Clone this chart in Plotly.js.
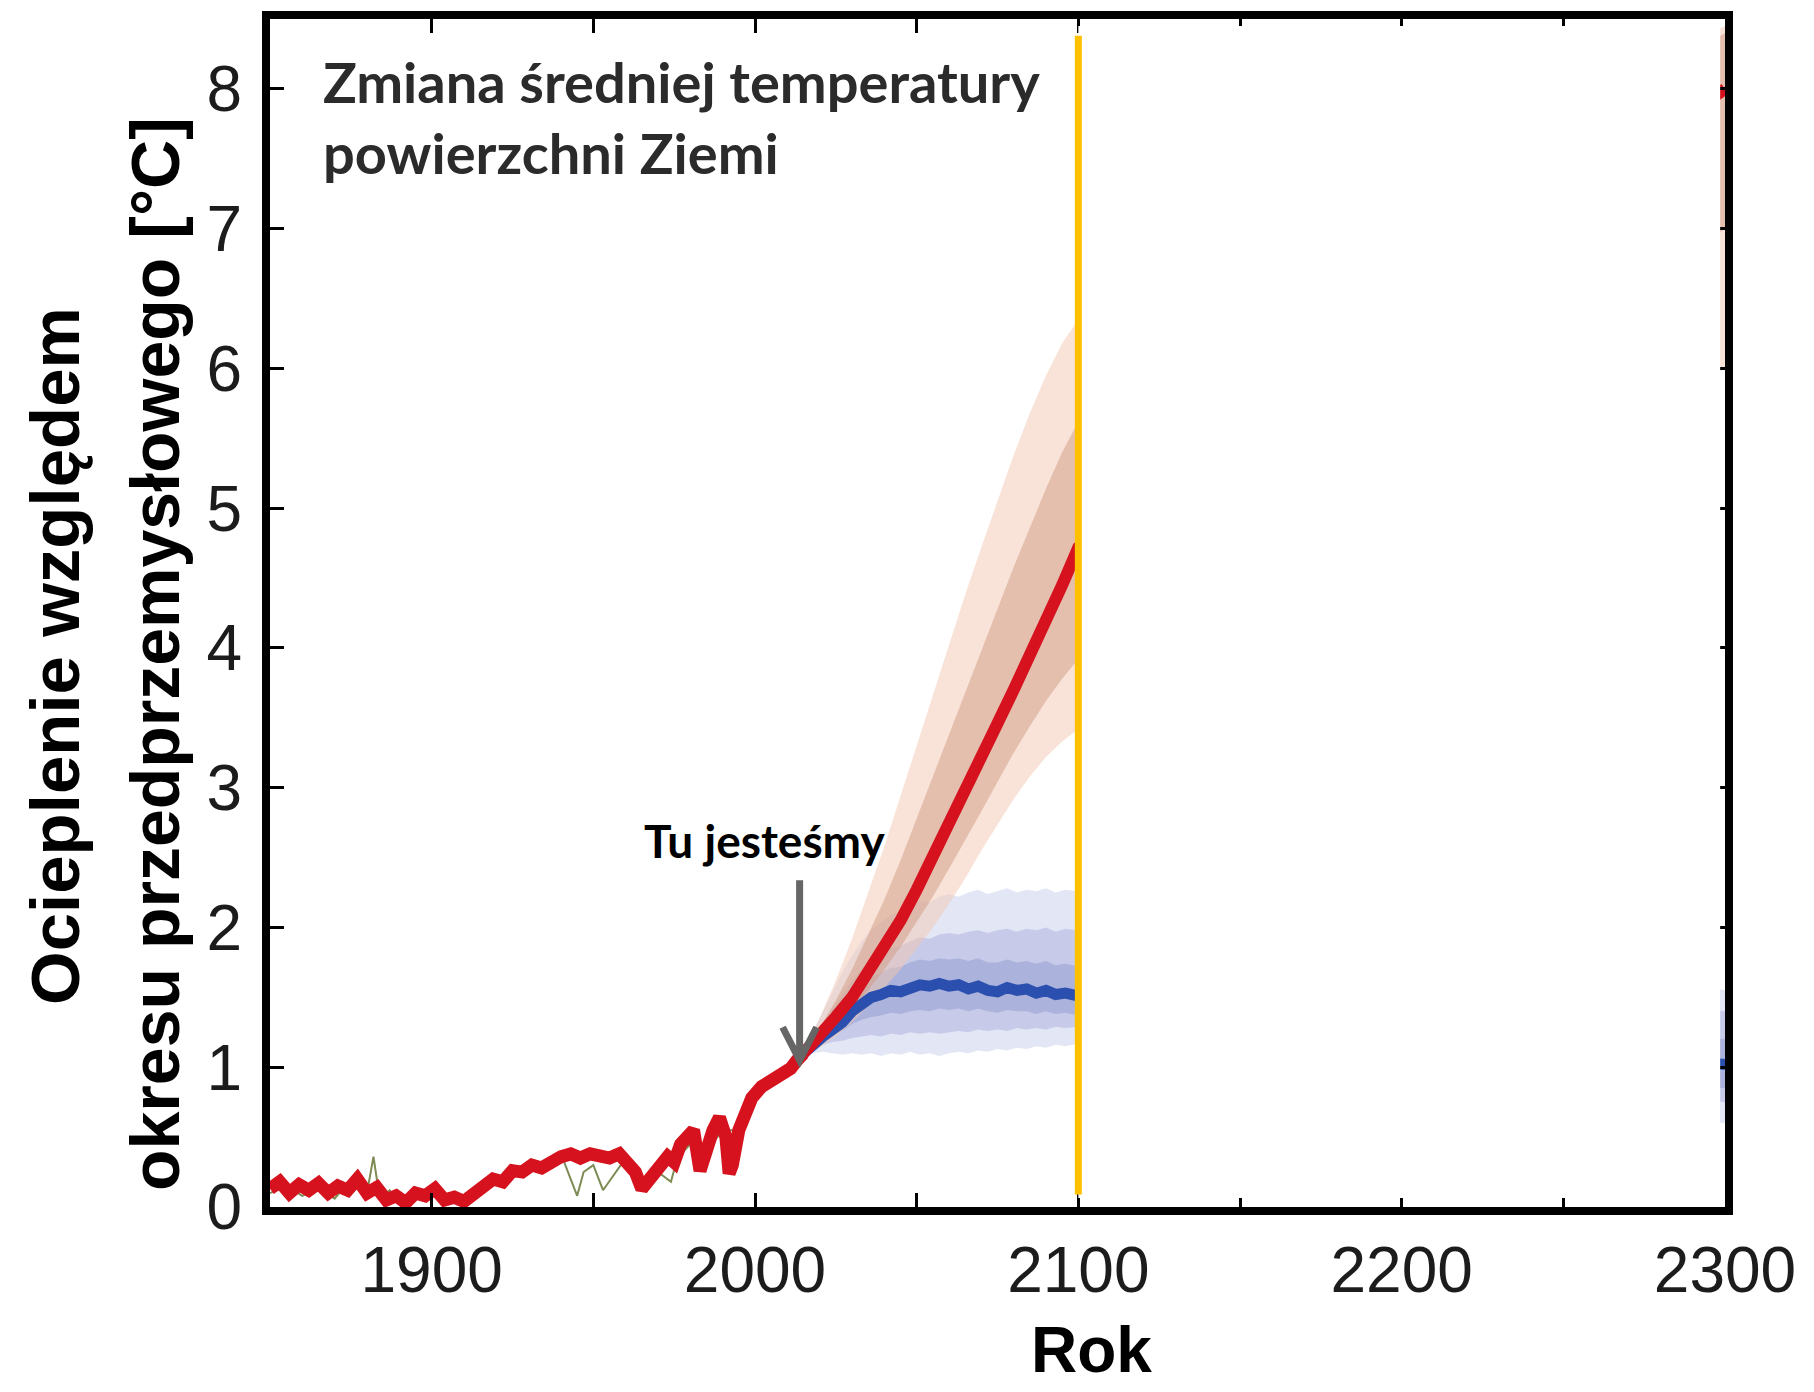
<!DOCTYPE html>
<html><head><meta charset="utf-8">
<script src="https://cdn.plot.ly/plotly-3.0.1.min.js"></script>
<style>html,body{margin:0;padding:0;background:#fff}#chart{width:1814px;height:1392px}</style>
</head><body><div id="chart"></div>
<script>
// ---------- DATA ----------
const obsYears = [1850,1853,1856,1859,1862,1865,1868,1871,1874,1877,1880,1883,1886,1889,1892,1895,1898,1901,1904,1907,1910,1913,1916,1919,1922,1925,1928,1931,1934,1937,1940,1943,1946,1949,1952,1955,1958,1961,1963,1965,1967,1970,1973,1975,1977,1979,1981,1983,1985,1987,1989,1991,1992,1993,1995,1997,1999,2002,2005,2008,2011,2013,2015];
const obsTemp  = [0.13,0.18,0.10,0.16,0.12,0.17,0.10,0.15,0.12,0.20,0.10,0.14,0.05,0.08,0.03,0.10,0.08,0.13,0.05,0.07,0.04,0.10,0.15,0.20,0.18,0.26,0.25,0.30,0.28,0.33,0.36,0.38,0.35,0.38,0.36,0.35,0.38,0.31,0.25,0.13,0.18,0.28,0.36,0.32,0.45,0.50,0.55,0.26,0.45,0.55,0.64,0.50,0.24,0.30,0.55,0.68,0.78,0.86,0.90,0.93,0.99,1.05,1.10];

const otherObsYears = [1850,1855,1860,1865,1870,1875,1878,1880,1882,1884,1887,1890,1895,1900,1905,1910,1915,1920,1925,1930,1935,1940,1943,1945,1947,1950,1953,1956,1960,1965,1970,1974,1976,1980,1985,1990,1995,2000,2005,2010,2015];
const otherObsTemp  = [0.10,0.15,0.08,0.14,0.06,0.20,0.12,0.10,0.36,0.05,0.12,0.03,0.12,0.10,0.08,0.06,0.13,0.18,0.22,0.28,0.30,0.38,0.20,0.08,0.25,0.30,0.12,0.22,0.35,0.14,0.25,0.18,0.35,0.45,0.40,0.55,0.55,0.78,0.88,0.97,1.08];

const highYears   = [2015,2020,2025,2030,2035,2040,2045,2050,2055,2060,2065,2070,2075,2080,2085,2090,2095,2100,2300];
const highMean    = [1.10,1.22,1.36,1.50,1.68,1.86,2.05,2.27,2.50,2.74,2.98,3.22,3.46,3.70,3.93,4.20,4.45,4.72,8.0];
const highOuterUp = [1.12,1.35,1.62,1.92,2.25,2.58,2.94,3.30,3.66,4.02,4.38,4.72,5.05,5.38,5.68,5.95,6.18,6.35,8.45];
const highOuterLo = [1.08,1.14,1.22,1.32,1.44,1.57,1.70,1.85,2.00,2.17,2.35,2.55,2.74,2.92,3.08,3.22,3.33,3.42,6.0];
const highInnerUp = [1.11,1.28,1.48,1.70,1.95,2.20,2.48,2.78,3.08,3.38,3.68,3.98,4.28,4.58,4.86,5.14,5.40,5.62,8.4];
const highInnerLo = [1.09,1.17,1.28,1.40,1.55,1.70,1.86,2.04,2.22,2.42,2.62,2.83,3.04,3.25,3.44,3.62,3.78,3.92,7.0];

const lowYears   = [2015,2018,2021,2024,2027,2030,2033,2036,2039,2042,2045,2048,2051,2054,2057,2060,2063,2066,2069,2072,2075,2078,2081,2084,2087,2090,2093,2096,2100,2300];
const lowMean    = [1.10,1.17,1.22,1.27,1.32,1.40,1.46,1.50,1.52,1.55,1.54,1.57,1.59,1.58,1.60,1.58,1.59,1.56,1.58,1.55,1.54,1.57,1.55,1.56,1.53,1.55,1.52,1.53,1.51,1.02];
const lowOuterUp = [1.12,1.26,1.40,1.54,1.68,1.80,1.90,1.98,2.04,2.09,2.12,2.16,2.19,2.18,2.22,2.24,2.22,2.25,2.27,2.24,2.26,2.28,2.25,2.27,2.26,2.28,2.25,2.27,2.26,1.55];
const lowOuterLo = [1.08,1.10,1.11,1.10,1.09,1.10,1.09,1.10,1.08,1.10,1.09,1.11,1.09,1.10,1.08,1.10,1.11,1.10,1.12,1.11,1.13,1.12,1.14,1.13,1.15,1.14,1.16,1.15,1.17,0.60];
const lowMidUp   = [1.11,1.22,1.32,1.42,1.52,1.62,1.70,1.76,1.81,1.85,1.87,1.90,1.93,1.92,1.95,1.96,1.95,1.97,1.98,1.96,1.98,1.99,1.97,1.99,1.98,2.00,1.97,1.99,1.98,1.40];
const lowMidLo   = [1.09,1.13,1.16,1.18,1.19,1.21,1.22,1.23,1.22,1.24,1.23,1.25,1.24,1.25,1.24,1.25,1.26,1.25,1.27,1.26,1.27,1.26,1.28,1.27,1.28,1.27,1.29,1.28,1.29,0.75];
const lowInUp    = [1.10,1.19,1.26,1.33,1.40,1.50,1.58,1.64,1.68,1.71,1.72,1.75,1.77,1.76,1.78,1.77,1.78,1.76,1.78,1.75,1.75,1.77,1.75,1.76,1.74,1.76,1.73,1.74,1.72,1.20];
const lowInLo    = [1.09,1.15,1.19,1.23,1.26,1.31,1.34,1.36,1.37,1.39,1.38,1.40,1.41,1.40,1.42,1.41,1.42,1.40,1.42,1.40,1.39,1.41,1.40,1.40,1.38,1.40,1.38,1.39,1.37,0.85];

const xTickVals = [1900,1950,2000,2050,2100,2150,2200,2250,2300];
const xTickText = ['1900','','2000','','2100','','2200','','2300'];
const yTickVals = [0,1,2,3,4,5,6,7,8];

const markerYear = 2100;       // yellow divider
const coverEndYear = 2298.5;   // white cover right edge
const hereYear = 2013.8, hereTemp = 1.05; // arrow tip

// ---------- LAYOUT GEOMETRY ----------
const W = 1814, H = 1392;
const M = {l:270, r:89, t:19, b:185, pad:0};
const PW = W - M.l - M.r, PH = H - M.t - M.b;
const px = v => (v - M.l) / PW;
const py = v => 1 - (v - M.t) / PH;

function band(x, lo, up, color) {
  return [
    {x:x, y:lo, mode:'lines', line:{width:0}, hoverinfo:'skip', showlegend:false},
    {x:x, y:up, mode:'lines', line:{width:0}, fill:'tonexty', fillcolor:color, hoverinfo:'skip', showlegend:false}
  ];
}

const RED = '#d5121d', BLUE = '#2a4fae';
const traces = [].concat(
  band(lowYears, lowOuterLo, lowOuterUp, 'rgba(200,206,236,0.50)'),
  band(lowYears, lowMidLo, lowMidUp, 'rgba(160,168,216,0.42)'),
  band(lowYears, lowInLo, lowInUp, 'rgba(130,140,198,0.40)'),
  band(highYears, highOuterLo, highOuterUp, 'rgba(244,200,178,0.50)'),
  band(highYears, highInnerLo, highInnerUp, 'rgba(206,152,128,0.48)'),
  [
    {x:otherObsYears, y:otherObsTemp, mode:'lines', line:{color:'#7d8c55', width:2}, hoverinfo:'skip', showlegend:false},
    {x:lowYears, y:lowMean, mode:'lines', line:{color:BLUE, width:11}, showlegend:false},
    {x:highYears, y:highMean, mode:'lines', line:{color:RED, width:12}, showlegend:false},
    {x:obsYears, y:obsTemp, mode:'lines', line:{color:RED, width:13}, showlegend:false}
  ]
);

const axisCommon = {
  ticks:'inside', ticklen:14, tickwidth:3, tickcolor:'#000',
  showline:true, linewidth:8, linecolor:'#000', mirror:'ticks',
  showgrid:false, zeroline:false,
  tickfont:{family:'Liberation Sans, Arial, sans-serif', size:64, color:'#1c1c1c'}
};

const textFont = (size, color) => ({family:'Lato, "Open Sans", sans-serif', size:size, color:color, weight:700});
const boldArial = (size) => ({family:'Liberation Sans, Arial, sans-serif', size:size, color:'#000', weight:700});

const layout = {
  width:W, height:H, margin:M,
  paper_bgcolor:'#fff', plot_bgcolor:'#fff', showlegend:false,
  xaxis: Object.assign({}, axisCommon, {range:[1850,2300], tickmode:'array', tickvals:xTickVals, ticktext:xTickText, ticklabelstandoff:0}),
  yaxis: Object.assign({}, axisCommon, {range:[0,8.5], tickmode:'array', tickvals:yTickVals, ticktext:yTickVals.map(String), ticklabelstandoff:7}),
  shapes: [
    {type:'rect', xref:'x', yref:'y', x0:markerYear, x1:coverEndYear, y0:0.065, y1:8.45, fillcolor:'#ffffff', line:{width:0}, layer:'above'},
    {type:'line', xref:'x', yref:'y', x0:markerYear, x1:markerYear, y0:0.09, y1:8.38, line:{color:'#FFC000', width:7}, layer:'above'},
    {type:'path', xref:'x', yref:'y', xsizemode:'pixel', ysizemode:'pixel', xanchor:hereYear, yanchor:hereTemp,
     path:'M0,0 L0,180 M-17,33 L0,0 L17,33', line:{color:'#666666', width:7}, layer:'above'}
  ],
  annotations: [
    {xref:'paper', yref:'paper', x:px(321), y:py(82), xanchor:'left', yanchor:'middle', showarrow:false,
     text:'Zmiana średniej temperatury', font:textFont(56,'#2b2b2b')},
    {xref:'paper', yref:'paper', x:px(321), y:py(153), xanchor:'left', yanchor:'middle', showarrow:false,
     text:'powierzchni Ziemi', font:textFont(56,'#2b2b2b')},
    {xref:'paper', yref:'paper', x:px(764), y:py(840), xanchor:'center', yanchor:'middle', showarrow:false,
     text:'Tu jesteśmy', font:textFont(46,'#000')},
    {xref:'paper', yref:'paper', x:px(55), y:py(656), xanchor:'center', yanchor:'middle', showarrow:false, textangle:-90,
     text:'Ocieplenie względem', font:boldArial(69)},
    {xref:'paper', yref:'paper', x:px(155), y:py(654), xanchor:'center', yanchor:'middle', showarrow:false, textangle:-90,
     text:'okresu przedprzemysłowego [°C]', font:boldArial(68)},
    {xref:'paper', yref:'paper', x:px(1091), y:py(1350), xanchor:'center', yanchor:'middle', showarrow:false,
     text:'Rok', font:boldArial(64)}
  ]
};

Plotly.newPlot('chart', traces, layout, {staticPlot:true, displayModeBar:false});
</script></body></html>
